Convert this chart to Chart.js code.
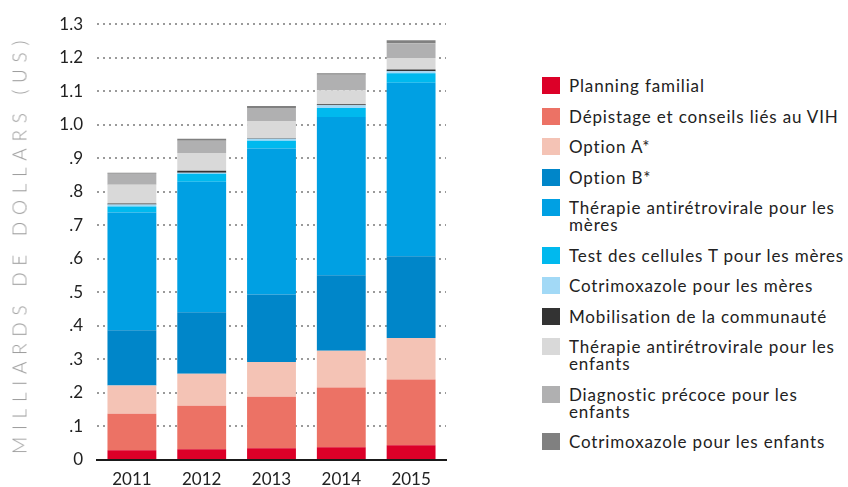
<!DOCTYPE html>
<html>
<head>
<meta charset="utf-8">
<script src="https://cdn.jsdelivr.net/npm/chart.js@4"></script>
<style>
  body { margin: 0; background: #fff; font-family: Lato, sans-serif; }
  #wrap { position: relative; width: 848px; height: 487px; }
  #chartBox { position: absolute; left: 0; top: 0; width: 460px; height: 487px; }
  #yTitle {
    position: absolute; left: 19px; top: 244px;
    transform: translate(-50%, -50%) rotate(-90deg);
    white-space: nowrap; font-size: 19px; letter-spacing: 6.7px;
    font-weight: 300; color: #9a9a9a;
  }
  #legend {
    position: absolute; left: 542px; top: 77px; width: 306px;
    display: flex; flex-direction: column; gap: 13.5px;
  }
  .item { display: flex; align-items: flex-start; }
  .box { width: 18px; height: 17px; flex: none; margin-top: 0; }
  .label { margin-left: 9px; font-size: 17px; line-height: 17px; letter-spacing: 0.85px; color: #222; white-space: nowrap; }
</style>
</head>
<body>
<div id="wrap">
  <div id="chartBox"><canvas id="chart"></canvas></div>
  <div id="yTitle">MILLIARDS DE DOLLARS (US)</div>
  <div id="legend"></div>
</div>
<script>
// --- Data (billions of US dollars) ---
const years = ['2011', '2012', '2013', '2014', '2015'];

const seriesNames = [
    'Planning familial',
    'Dépistage et conseils liés au VIH',
    'Option A*',
    'Option B*',
    'Thérapie antirétrovirale pour les mères',
    'Test des cellules T pour les mères',
    'Cotrimoxazole pour les mères',
    'Mobilisation de la communauté',
    'Thérapie antirétrovirale pour les enfants',
    'Diagnostic précoce pour les enfants',
    'Cotrimoxazole pour les enfants'
];

// legend text split into lines like the original
const legendLines = [
    ['Planning familial'],
    ['Dépistage et conseils liés au VIH'],
    ['Option A*'],
    ['Option B*'],
    ['Thérapie antirétrovirale pour les', 'mères'],
    ['Test des cellules T pour les mères'],
    ['Cotrimoxazole pour les mères'],
    ['Mobilisation de la communauté'],
    ['Thérapie antirétrovirale pour les', 'enfants'],
    ['Diagnostic précoce pour les', 'enfants'],
    ['Cotrimoxazole pour les enfants']
];

const planningFamilial   = [0.029, 0.032, 0.035, 0.038, 0.044];
const depistage          = [0.109, 0.130, 0.154, 0.178, 0.196];
const optionA            = [0.084, 0.095, 0.103, 0.110, 0.124];
const optionB            = [0.165, 0.184, 0.202, 0.225, 0.244];
const therapieMeres      = [0.351, 0.389, 0.435, 0.472, 0.517];
const testCellulesT      = [0.018, 0.024, 0.023, 0.027, 0.029];
const cotrimoxazoleMeres = [0.006, 0.003, 0.006, 0.008, 0.006];
const mobilisation       = [0.003, 0.006, 0.002, 0.003, 0.005];
const therapieEnfants    = [0.056, 0.053, 0.051, 0.042, 0.034];
const diagnosticPrecoce  = [0.033, 0.036, 0.039, 0.046, 0.044];
const cotrimoxEnfants    = [0.003, 0.006, 0.006, 0.005, 0.009];

const seriesValues = [
    planningFamilial, depistage, optionA, optionB, therapieMeres, testCellulesT,
    cotrimoxazoleMeres, mobilisation, therapieEnfants, diagnosticPrecoce, cotrimoxEnfants
];

const seriesColors = [
    '#dc0028', '#ec7265', '#f4c3b5', '#0086c9', '#00a0e3', '#00b9ee',
    '#a2d9f6', '#333333', '#d9d9d9', '#b0b0b1', '#808080'
];

// --- Chart ---
const datasets = seriesNames.map((name, i) => ({
    label: name,
    data: seriesValues[i],
    backgroundColor: seriesColors[i],
    borderWidth: 0,
    barPercentage: 0.7,
    categoryPercentage: 1.0
}));

function formatTick(value) {
    if (Math.abs(value) < 1e-9) return '0';
    const s = value.toFixed(1);
    return value < 1 ? s.replace(/^0/, '') : s;
}

new Chart(document.getElementById('chart'), {
    type: 'bar',
    data: { labels: years, datasets: datasets },
    options: {
        responsive: true,
        maintainAspectRatio: false,
        animation: false,
        layout: { padding: { top: 23, right: 14, bottom: 0, left: 0 } },
        plugins: { legend: { display: false }, tooltip: { enabled: false } },
        scales: {
            x: {
                stacked: true,
                grid: { display: false, drawTicks: false },
                border: { color: '#1a1a1a', width: 2 },
                ticks: { color: '#222', font: { family: 'Lato', size: 17 }, padding: 9 },
                afterFit: scale => { scale.height = 27; }
            },
            y: {
                stacked: true,
                min: 0,
                max: 1.3,
                z: 1,
                border: { display: false, dash: [2, 4] },
                grid: { color: '#9a9a9a', lineWidth: 2, drawTicks: false },
                ticks: {
                    stepSize: 0.1,
                    color: '#222',
                    font: { family: 'Lato', size: 17 },
                    padding: 14,
                    callback: value => formatTick(value)
                },
                afterFit: scale => { scale.width = 97; }
            }
        }
    }
});

// --- HTML legend ---
const legendEl = document.getElementById('legend');
legendLines.forEach((lines, i) => {
    const item = document.createElement('div');
    item.className = 'item';
    const box = document.createElement('div');
    box.className = 'box';
    box.style.background = seriesColors[i];
    const label = document.createElement('div');
    label.className = 'label';
    label.innerHTML = lines.join('<br>');
    item.appendChild(box);
    item.appendChild(label);
    legendEl.appendChild(item);
});
</script>
</body>
</html>
